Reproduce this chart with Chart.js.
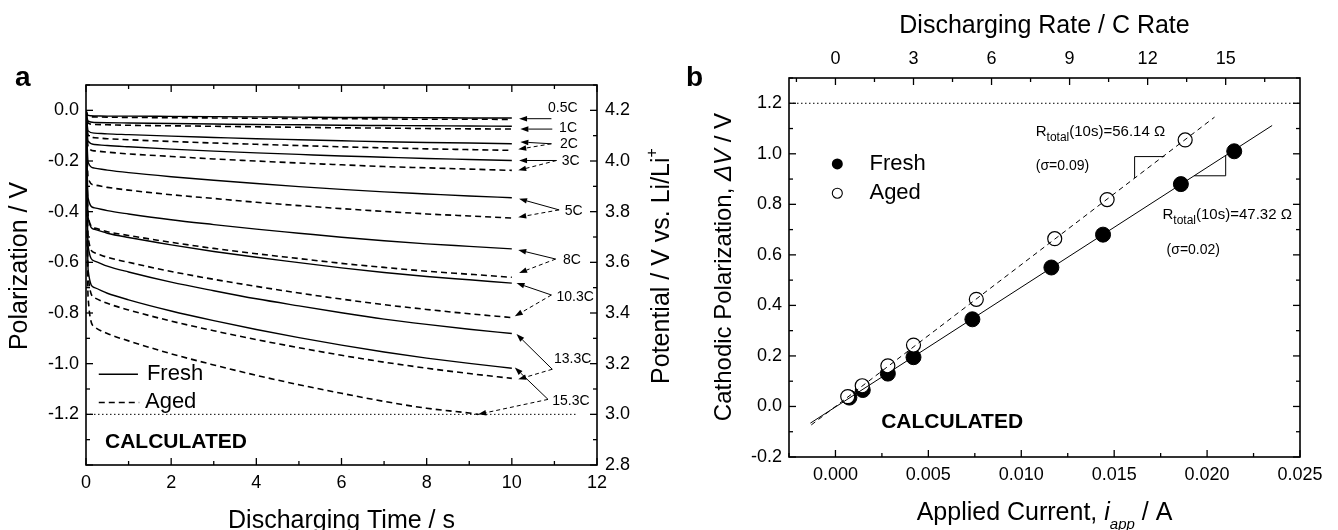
<!DOCTYPE html>
<html>
<head>
<meta charset="utf-8">
<script src="https://cdn.jsdelivr.net/npm/chart.js@4.4.1/dist/chart.umd.min.js"></script>
<style>
  body { margin: 0; background: #fff; }
  #wrap { position: relative; width: 1338px; height: 530px; overflow: hidden; background: #fff; }
  canvas { position: absolute; top: 0; }
  #chartA { left: 0; }
  #chartB { left: 700px; }
  .tag { position: absolute; font: bold 28px 'Liberation Sans', Arial, sans-serif; line-height: 28px; }
</style>
</head>
<body>
<div id="wrap">
  <canvas id="chartA" width="700" height="530"></canvas>
  <canvas id="chartB" width="638" height="530"></canvas>
  <div class="tag" style="left:15px; top:63px;">a</div>
  <div class="tag" style="left:686px; top:63px;">b</div>
</div>
<script>
// ---- panel a: polarization transients vs discharging time ----
const timeS = [0, 0.05, 0.2, 0.5, 1, 2, 3, 4, 5, 6, 7, 8, 9, 10];
const timeAged153 = [0, 0.05, 0.2, 0.5, 1, 2, 3, 4, 5, 6, 7, 8, 9, 9.21];
const rateLabels = ['0.5C', '1C', '2C', '3C', '5C', '8C', '10.3C', '13.3C', '15.3C'];

const fresh05 = [0, -0.020, -0.022, -0.023, -0.023, -0.024, -0.025, -0.026, -0.027, -0.028, -0.028, -0.029, -0.030, -0.030];
const fresh1 = [0, -0.043, -0.048, -0.049, -0.050, -0.052, -0.054, -0.056, -0.057, -0.059, -0.060, -0.061, -0.062, -0.063];
const fresh2 = [0, -0.081, -0.090, -0.093, -0.096, -0.102, -0.107, -0.112, -0.116, -0.120, -0.124, -0.127, -0.129, -0.132];
const fresh3 = [0, -0.122, -0.135, -0.139, -0.144, -0.153, -0.161, -0.168, -0.174, -0.180, -0.185, -0.190, -0.194, -0.198];
const fresh5 = [0, -0.205, -0.228, -0.236, -0.246, -0.262, -0.276, -0.289, -0.301, -0.312, -0.322, -0.330, -0.338, -0.345];
const fresh8 = [0, -0.347, -0.385, -0.396, -0.409, -0.432, -0.451, -0.469, -0.485, -0.501, -0.515, -0.527, -0.537, -0.547];
const fresh103 = [0, -0.423, -0.470, -0.485, -0.502, -0.531, -0.557, -0.580, -0.601, -0.622, -0.640, -0.656, -0.669, -0.682];
const fresh133 = [0, -0.536, -0.595, -0.615, -0.638, -0.678, -0.712, -0.744, -0.772, -0.799, -0.824, -0.845, -0.864, -0.881];
const fresh153 = [0, -0.630, -0.700, -0.722, -0.748, -0.792, -0.830, -0.865, -0.897, -0.927, -0.954, -0.978, -0.999, -1.018];

const aged05 = [0, -0.023, -0.026, -0.027, -0.028, -0.029, -0.030, -0.031, -0.032, -0.033, -0.034, -0.035, -0.035, -0.036];
const aged1 = [0, -0.050, -0.056, -0.057, -0.059, -0.061, -0.063, -0.065, -0.067, -0.069, -0.070, -0.072, -0.073, -0.074];
const aged2 = [0, -0.097, -0.108, -0.112, -0.116, -0.123, -0.129, -0.134, -0.139, -0.144, -0.148, -0.152, -0.155, -0.158];
const aged3 = [0, -0.144, -0.160, -0.165, -0.172, -0.182, -0.192, -0.200, -0.208, -0.215, -0.222, -0.227, -0.232, -0.237];
const aged5 = [0, -0.266, -0.295, -0.304, -0.315, -0.333, -0.348, -0.363, -0.376, -0.388, -0.399, -0.409, -0.417, -0.425];
const aged8 = [0, -0.419, -0.465, -0.479, -0.494, -0.521, -0.545, -0.566, -0.585, -0.604, -0.620, -0.635, -0.647, -0.659];
const aged103 = [0, -0.500, -0.562, -0.580, -0.600, -0.636, -0.667, -0.695, -0.721, -0.745, -0.767, -0.786, -0.803, -0.818];
const aged133 = [0, -0.650, -0.740, -0.762, -0.788, -0.832, -0.870, -0.905, -0.937, -0.967, -0.994, -1.018, -1.039, -1.058];
const aged153 = [0, -0.740, -0.855, -0.881, -0.910, -0.961, -1.005, -1.046, -1.083, -1.117, -1.149, -1.176, -1.195, -1.200];

const freshCurves = [fresh05, fresh1, fresh2, fresh3, fresh5, fresh8, fresh103, fresh133, fresh153];
const agedCurves = [aged05, aged1, aged2, aged3, aged5, aged8, aged103, aged133, aged153];

// cut-off (3.0 V vs Li/Li+)
const cutoffT = [0, 11.55];
const cutoffV = [-1.2, -1.2];

// rate annotations: label anchor, arrow tail and arrow tips (s, V)
const labelT = [10.85, 11.11, 11.13, 11.17, 11.24, 11.2, 11.05, 10.99, 10.95];
const labelV = [0.009, -0.072, -0.134, -0.202, -0.396, -0.593, -0.738, -0.982, -1.147];
const tailT = [10.93, 10.95, 10.93, 11.05, 11.11, 11.03, 10.93, 10.95, 10.85];
const tailV = [-0.033, -0.074, -0.132, -0.198, -0.393, -0.587, -0.729, -1.022, -1.141];
const tipFreshT = [10.17, 10.2, 10.2, 10.17, 10.17, 10.15, 10.11, 10.11, 10.07];
const tipFreshV = [-0.033, -0.074, -0.125, -0.198, -0.349, -0.551, -0.682, -0.883, -1.015];
const tipAgedT = [null, null, 10.15, 10.15, 10.15, 10.17, 10.07, 10.15, 9.21];
const tipAgedV = [null, null, -0.154, -0.237, -0.422, -0.642, -0.813, -1.062, -1.2];

// ---- panel b: cathodic polarization at 10 s vs applied current ----
const freshCurrent = [0.00075, 0.00147, 0.00282, 0.0042, 0.00737, 0.01162, 0.0144, 0.01859, 0.02146];
const freshDeltaV = [0.035, 0.065, 0.13, 0.195, 0.345, 0.55, 0.68, 0.88, 1.01];
const agedCurrent = [0.00066, 0.00144, 0.00282, 0.0042, 0.00758, 0.0118, 0.01462, 0.01882];
const agedDeltaV = [0.039, 0.082, 0.161, 0.243, 0.424, 0.664, 0.819, 1.055];

const fitFreshI = [-0.00135, 0.0235];
const fitFreshV = [-0.066, 1.112];
const fitAgedI = [-0.0013, 0.0204];
const fitAgedV = [-0.073, 1.145];

const triAgedI = [0.0161, 0.0161, 0.0177];
const triAgedV = [0.904, 0.989, 0.989];
const triFreshI = [0.0193, 0.0210, 0.0210];
const triFreshV = [0.913, 0.913, 0.994];

const limitI = [-0.0025, 0.025];
const limitV = [1.2, 1.2];

const amps1C = 0.0014; // current of 1C, used for the top axis

const FONT = "'Liberation Sans', Arial, Helvetica, sans-serif";
Chart.defaults.font.family = FONT;
Chart.defaults.color = '#000';

function pts(xs, ys) {
    return xs.map((x, i) => ({ x: x, y: ys[i] }));
}

function fontOf(p) {
    return (p.italic ? 'italic ' : '') + (p.bold ? 'bold ' : '') + p.size + 'px ' + FONT;
}

// draw a run of text parts (sub/superscripts via dy), y is the baseline
function richText(ctx, parts, x, y, align, angle) {
    ctx.save();
    ctx.translate(x, y);
    if (angle) ctx.rotate(angle);
    ctx.fillStyle = '#000';
    ctx.textAlign = 'left';
    ctx.textBaseline = 'alphabetic';
    const widths = parts.map(p => { ctx.font = fontOf(p); return ctx.measureText(p.t).width; });
    const total = widths.reduce((a, b) => a + b, 0);
    let cx = align === 'center' ? -total / 2 : 0;
    parts.forEach((p, i) => {
        ctx.font = fontOf(p);
        ctx.fillText(p.t, cx, p.dy || 0);
        cx += widths[i];
    });
    ctx.restore();
}

function label(ctx, text, x, y, font) {
    ctx.save();
    ctx.font = font;
    ctx.fillStyle = '#000';
    ctx.textAlign = 'left';
    ctx.textBaseline = 'middle';
    ctx.fillText(text, x, y);
    ctx.restore();
}

// box with inward major/minor ticks on all four sides
function drawFrame(chart, sides) {
    const { ctx, chartArea: a } = chart;
    ctx.save();
    ctx.strokeStyle = '#000';
    ctx.lineWidth = 1.6;
    ctx.strokeRect(a.left, a.top, a.right - a.left, a.bottom - a.top);
    ctx.lineWidth = 1.3;
    sides.forEach(sd => {
        const sc = chart.scales[sd.scale];
        for (let k = Math.ceil(sc.min / sd.minor - 1e-6); k * sd.minor <= sc.max + 1e-9; k++) {
            const v = k * sd.minor;
            const r = v / sd.major;
            const len = Math.abs(r - Math.round(r)) < 1e-6 ? 7 : 4;
            const p = sc.getPixelForValue(v);
            ctx.beginPath();
            if (sd.side === 'bottom') { ctx.moveTo(p, a.bottom); ctx.lineTo(p, a.bottom - len); }
            if (sd.side === 'top') { ctx.moveTo(p, a.top); ctx.lineTo(p, a.top + len); }
            if (sd.side === 'left') { ctx.moveTo(a.left, p); ctx.lineTo(a.left + len, p); }
            if (sd.side === 'right') { ctx.moveTo(a.right, p); ctx.lineTo(a.right - len, p); }
            ctx.stroke();
        }
    });
    ctx.restore();
}

function arrow(ctx, x0, y0, x1, y1, dashed) {
    const ang = Math.atan2(y1 - y0, x1 - x0);
    const hx = x1 - 8 * Math.cos(ang);
    const hy = y1 - 8 * Math.sin(ang);
    ctx.save();
    ctx.strokeStyle = '#000';
    ctx.fillStyle = '#000';
    ctx.lineWidth = 1;
    ctx.setLineDash(dashed ? [4, 3] : []);
    ctx.beginPath();
    ctx.moveTo(x0, y0);
    ctx.lineTo(hx, hy);
    ctx.stroke();
    ctx.setLineDash([]);
    ctx.beginPath();
    ctx.moveTo(x1, y1);
    ctx.lineTo(hx + 2.8 * Math.sin(ang), hy - 2.8 * Math.cos(ang));
    ctx.lineTo(hx - 2.8 * Math.sin(ang), hy + 2.8 * Math.cos(ang));
    ctx.closePath();
    ctx.fill();
    ctx.restore();
}

const tickFont = { size: 18 };
const noGrid = { display: false, drawTicks: false };
const noBorder = { display: false };
const fmt = d => v => (Math.abs(v) < 1e-9 ? 0 : v).toFixed(d);

// ---------- Panel a ----------
const dsA = [];
freshCurves.forEach((vals, i) => {
    dsA.push({
        label: 'Fresh ' + rateLabels[i],
        data: pts(timeS, vals),
        showLine: true,
        borderColor: '#000',
        borderWidth: 1.4,
        pointRadius: 0,
        cubicInterpolationMode: 'monotone'
    });
});
agedCurves.forEach((vals, i) => {
    dsA.push({
        label: 'Aged ' + rateLabels[i],
        data: pts(i === agedCurves.length - 1 ? timeAged153 : timeS, vals),
        showLine: true,
        borderColor: '#000',
        borderWidth: 1.6,
        borderDash: [6, 4],
        pointRadius: 0,
        cubicInterpolationMode: 'monotone'
    });
});
dsA.push({
    label: 'cut-off',
    data: pts(cutoffT, cutoffV),
    showLine: true,
    borderColor: '#000',
    borderWidth: 1,
    borderDash: [1.5, 2.5],
    pointRadius: 0
});

const panelAOverlay = {
    id: 'panelAOverlay',
    afterDraw(chart) {
        const { ctx, scales: { x, y } } = chart;
        drawFrame(chart, [
            { side: 'bottom', scale: 'x', major: 2, minor: 1 },
            { side: 'top', scale: 'x', major: 2, minor: 1 },
            { side: 'left', scale: 'y', major: 0.2, minor: 0.1 },
            { side: 'right', scale: 'y2', major: 0.2, minor: 0.1 }
        ]);

        // axis titles
        richText(ctx, [{ t: 'Polarization / V', size: 25 }], 26.5, 266, 'center', -Math.PI / 2);
        richText(ctx, [{ t: 'Potential / V vs. Li/Li', size: 25 }, { t: '+', size: 16, dy: -12 }], 669, 266, 'center', -Math.PI / 2);
        richText(ctx, [{ t: 'Discharging Time / s', size: 25 }], (chart.chartArea.left + chart.chartArea.right) / 2, 528, 'center');

        // rate labels + arrows
        rateLabels.forEach((txt, i) => {
            label(ctx, txt, x.getPixelForValue(labelT[i]), y.getPixelForValue(labelV[i]), '14px ' + FONT);
            const tx = x.getPixelForValue(tailT[i]);
            const ty = y.getPixelForValue(tailV[i]);
            arrow(ctx, tx, ty, x.getPixelForValue(tipFreshT[i]), y.getPixelForValue(tipFreshV[i]), false);
            if (tipAgedT[i] !== null) {
                arrow(ctx, tx, ty, x.getPixelForValue(tipAgedT[i]), y.getPixelForValue(tipAgedV[i]), true);
            }
        });

        // legend
        ctx.save();
        ctx.strokeStyle = '#000';
        ctx.lineWidth = 1.4;
        ctx.beginPath();
        ctx.moveTo(x.getPixelForValue(0.3), y.getPixelForValue(-1.042));
        ctx.lineTo(x.getPixelForValue(1.22), y.getPixelForValue(-1.042));
        ctx.stroke();
        ctx.setLineDash([6, 4]);
        ctx.beginPath();
        ctx.moveTo(x.getPixelForValue(0.3), y.getPixelForValue(-1.153));
        ctx.lineTo(x.getPixelForValue(1.25), y.getPixelForValue(-1.153));
        ctx.stroke();
        ctx.restore();
        label(ctx, 'Fresh', x.getPixelForValue(1.43), y.getPixelForValue(-1.042), '22px ' + FONT);
        label(ctx, 'Aged', x.getPixelForValue(1.385), y.getPixelForValue(-1.153), '22px ' + FONT);

        label(ctx, 'CALCULATED', x.getPixelForValue(0.446), y.getPixelForValue(-1.311), 'bold 21px ' + FONT);
    }
};

new Chart(document.getElementById('chartA'), {
    type: 'scatter',
    data: { datasets: dsA },
    options: {
        responsive: false,
        animation: false,
        events: [],
        layout: { padding: { top: 85, left: 0, right: 0, bottom: 0 } },
        plugins: { legend: { display: false }, tooltip: { enabled: false } },
        scales: {
            x: {
                type: 'linear', position: 'bottom', min: 0, max: 12,
                ticks: { stepSize: 2, padding: 7, font: tickFont, color: '#000', maxRotation: 0 },
                grid: noGrid, border: noBorder,
                afterFit: s => { s.height = 65; }
            },
            y: {
                type: 'linear', position: 'left', min: -1.4, max: 0.1,
                ticks: { stepSize: 0.2, includeBounds: false, padding: 7, font: tickFont, color: '#000', callback: fmt(1) },
                grid: noGrid, border: noBorder,
                afterFit: s => { s.width = 86; }
            },
            y2: {
                type: 'linear', position: 'right', min: 2.8, max: 4.3,
                ticks: { stepSize: 0.2, includeBounds: false, padding: 8, font: tickFont, color: '#000', callback: fmt(1) },
                grid: noGrid, border: noBorder,
                afterFit: s => { s.width = 103; }
            }
        }
    },
    plugins: [panelAOverlay]
});

// ---------- Panel b ----------
const panelBOverlay = {
    id: 'panelBOverlay',
    afterDraw(chart) {
        const { ctx, scales: { x, y }, chartArea: a } = chart;
        drawFrame(chart, [
            { side: 'bottom', scale: 'x', major: 0.005, minor: 0.0025 },
            { side: 'top', scale: 'x2', major: 3, minor: 1.5 },
            { side: 'left', scale: 'y', major: 0.2, minor: 0.1 },
            { side: 'right', scale: 'y', major: 0.2, minor: 0.1 }
        ]);
        const cx = (a.left + a.right) / 2;

        richText(ctx, [{ t: 'Discharging Rate / C Rate', size: 25 }], cx, 33, 'center');
        richText(ctx, [
            { t: 'Applied Current, ', size: 25 },
            { t: 'i', size: 25, italic: true },
            { t: 'app', size: 15, italic: true, dy: 9 },
            { t: ' / A', size: 25 }
        ], cx, 520, 'center');
        richText(ctx, [
            { t: 'Cathodic Polarization, ', size: 24 },
            { t: '\u0394V', size: 24, italic: true },
            { t: ' / V', size: 24 }
        ], 30.5, 267, 'center', -Math.PI / 2);

        // slope labels
        richText(ctx, [
            { t: 'R', size: 15 }, { t: 'total', size: 12, dy: 5 }, { t: '(10s)=56.14 \u03A9', size: 15 }
        ], x.getPixelForValue(0.01078), y.getPixelForValue(1.072), 'left');
        label(ctx, '(\u03C3=0.09)', x.getPixelForValue(0.01078), y.getPixelForValue(0.953), '14px ' + FONT);
        richText(ctx, [
            { t: 'R', size: 15 }, { t: 'total', size: 12, dy: 5 }, { t: '(10s)=47.32 \u03A9', size: 15 }
        ], x.getPixelForValue(0.0176), y.getPixelForValue(0.743), 'left');
        label(ctx, '(\u03C3=0.02)', x.getPixelForValue(0.01782), y.getPixelForValue(0.618), '14px ' + FONT);

        // legend
        ctx.save();
        ctx.fillStyle = '#000';
        ctx.strokeStyle = '#000';
        ctx.lineWidth = 1.1;
        ctx.beginPath();
        ctx.arc(x.getPixelForValue(0.0001), y.getPixelForValue(0.960), 5.5, 0, Math.PI * 2);
        ctx.fill();
        ctx.beginPath();
        ctx.arc(x.getPixelForValue(0.0001), y.getPixelForValue(0.844), 5, 0, Math.PI * 2);
        ctx.stroke();
        ctx.restore();
        label(ctx, 'Fresh', x.getPixelForValue(0.00183), y.getPixelForValue(0.960), '22px ' + FONT);
        label(ctx, 'Aged', x.getPixelForValue(0.00183), y.getPixelForValue(0.844), '22px ' + FONT);

        label(ctx, 'CALCULATED', x.getPixelForValue(0.00246), y.getPixelForValue(-0.064), 'bold 21px ' + FONT);
    }
};

const xMinB = -0.0025;
const xMaxB = 0.025;

new Chart(document.getElementById('chartB'), {
    type: 'scatter',
    data: {
        datasets: [
            {
                label: 'Fresh fit', data: pts(fitFreshI, fitFreshV), showLine: true,
                borderColor: '#000', borderWidth: 1, pointRadius: 0, order: 0
            },
            {
                label: 'Aged fit', data: pts(fitAgedI, fitAgedV), showLine: true,
                borderColor: '#000', borderWidth: 1, borderDash: [5, 4], pointRadius: 0, order: 0
            },
            {
                label: 'Aged slope', data: pts(triAgedI, triAgedV), showLine: true,
                borderColor: '#000', borderWidth: 1, pointRadius: 0, order: 0
            },
            {
                label: 'Fresh slope', data: pts(triFreshI, triFreshV), showLine: true,
                borderColor: '#000', borderWidth: 1, pointRadius: 0, order: 0
            },
            {
                label: 'limit', data: pts(limitI, limitV), showLine: true,
                borderColor: '#000', borderWidth: 1, borderDash: [1.5, 2.5], pointRadius: 0, order: 0
            },
            {
                label: 'Aged', data: pts(agedCurrent, agedDeltaV), showLine: false,
                pointRadius: 7, backgroundColor: '#fff', borderColor: '#000', borderWidth: 1.2, order: 1
            },
            {
                label: 'Fresh', data: pts(freshCurrent, freshDeltaV), showLine: false,
                pointRadius: 7.5, backgroundColor: '#000', borderColor: '#000', borderWidth: 1, order: 2
            }
        ]
    },
    options: {
        responsive: false,
        animation: false,
        events: [],
        layout: { padding: { top: 0, left: 0, right: 38, bottom: 0 } },
        plugins: { legend: { display: false }, tooltip: { enabled: false } },
        scales: {
            x: {
                type: 'linear', position: 'bottom', min: xMinB, max: xMaxB,
                ticks: { stepSize: 0.005, includeBounds: false, padding: 7, font: tickFont, color: '#000', maxRotation: 0, callback: fmt(3) },
                grid: noGrid, border: noBorder,
                afterFit: s => { s.height = 73; }
            },
            x2: {
                type: 'linear', position: 'top', min: xMinB / amps1C, max: xMaxB / amps1C,
                ticks: { stepSize: 3, includeBounds: false, padding: 8, font: tickFont, color: '#000', maxRotation: 0, callback: fmt(0) },
                grid: noGrid, border: noBorder,
                afterFit: s => { s.height = 78; }
            },
            y: {
                type: 'linear', position: 'left', min: -0.2, max: 1.3,
                ticks: { stepSize: 0.2, includeBounds: false, padding: 7, font: tickFont, color: '#000', callback: fmt(1) },
                grid: noGrid, border: noBorder,
                afterFit: s => { s.width = 89; }
            }
        }
    },
    plugins: [panelBOverlay]
});
</script>
</body>
</html>
